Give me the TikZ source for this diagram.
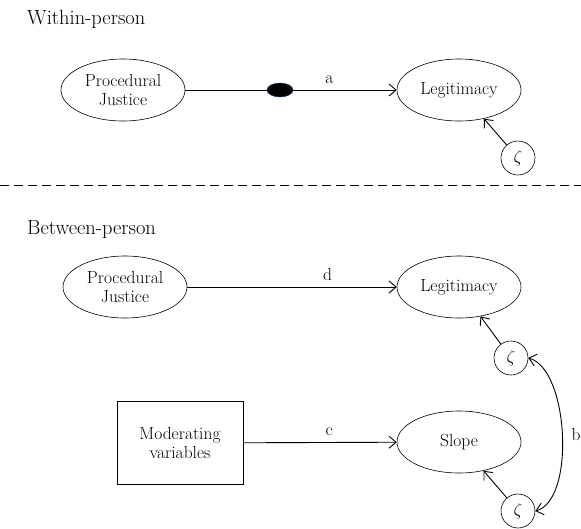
\documentclass[tikz,border=0pt]{standalone}
\definecolor{dotblue}{RGB}{0, 51, 102}
\usetikzlibrary{shapes.geometric, arrows.meta, positioning}

\begin{document}
\begin{tikzpicture}[x=1pt, y=-1pt, node distance=1.8cm, auto, font=\fontsize{17.5}{19.5}\selectfont]
      \tikzstyle{latent} = [ellipse, draw, line width=0.6pt, text centered, align=center, inner sep=0pt, minimum width=124pt, minimum height=62pt]
      \tikzstyle{block} = [rectangle, draw, line width=0.6pt, text centered, align=center, minimum width=126pt, minimum height=83pt]
      \tikzstyle{resid} = [circle, draw, line width=0.6pt, inner sep=0pt, minimum size=34pt]
      \tikzstyle{dot} = [ellipse, draw=dotblue, fill=black, inner sep=0pt, minimum width=26pt, minimum height=14pt]
      \tikzstyle{heading} = [anchor=west, inner sep=0pt, font=\fontsize{20.5}{22}\selectfont]
      \tikzstyle{plain} = [draw, line width=0.9pt]
      \tikzstyle{line} = [draw, -{Straight Barb[length=7pt, width=12pt]}, line width=0.9pt]
      \tikzstyle{dline} = [draw, {Straight Barb[length=7pt, width=12pt]}-{Straight Barb[length=7pt, width=12pt]}, line width=0.9pt]

      \useasboundingbox (0,0) rectangle (581,528);

      % within-person part
      \node [heading] (within) at (27,19) {Within-person};
      \node [latent] (pj1) at (123,90) {Procedural\\Justice};
      \node [latent, right of=pj1, node distance=336pt] (leg1) {Legitimacy};
      \node [dot] (med) at (280,90) {};
      \node [resid] (z1) at (518,158) {$\zeta$};

      \path [plain] (pj1) -- (med);
      \path [line] (med) -- node [pos=0.35, inner sep=6pt] {a} (leg1);
      \path [line] (z1) -- (leg1);

      % separator
      \coordinate (sepl) at (0,185);
      \coordinate (sepr) at (581,185);
      \draw [line width=0.6pt, dash pattern=on 9pt off 5pt] (sepl) -- (sepr);

      % between-person part
      \node [heading] (between) at (27,229) {Between-person};
      \node [latent] (pj2) at (125,287) {Procedural\\Justice};
      \node [latent, right of=pj2, node distance=334pt] (leg2) {Legitimacy};
      \node [resid] (z2) at (511,358) {$\zeta$};
      \node [block] (mod) at (180,443) {Moderating\\variables};
      \node [latent] (slope) at (459,442) {Slope};
      \node [resid] (z3) at (518,511) {$\zeta$};

      \path [line] (pj2) -- node [pos=0.67, inner sep=6pt] {d} (leg2);
      \path [line] (mod) -- node [pos=0.56, inner sep=6pt] {c} (slope);
      \path [line] (z2) -- (leg2);
      \path [line] (z3) -- (slope);
      \path [dline] (z2.east) to [out=-15, in=15, looseness=0.7] node [right, pos=0.5, inner sep=9pt] {b} (z3.east);
    \end{tikzpicture}
\end{document}
